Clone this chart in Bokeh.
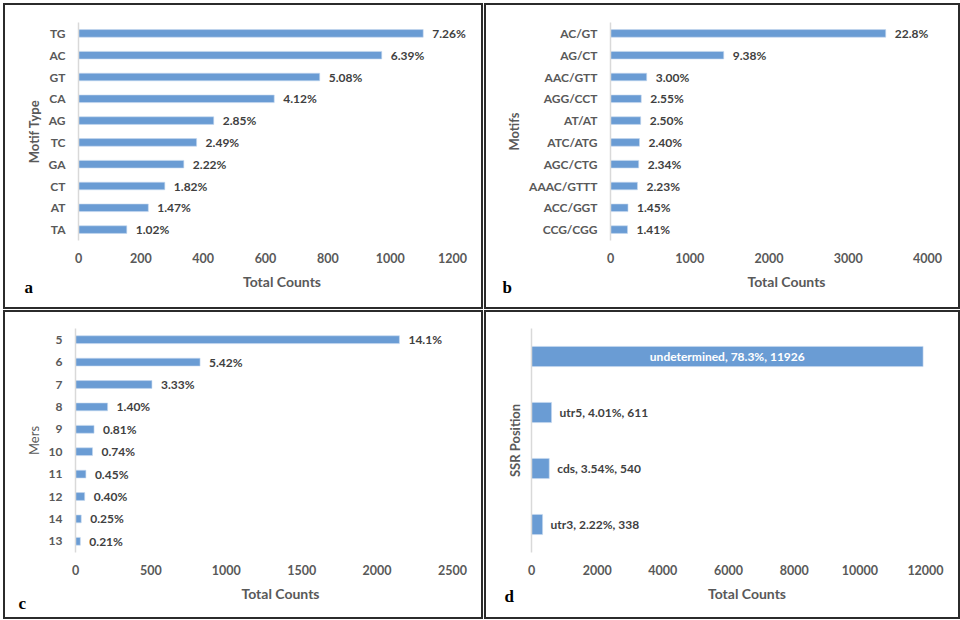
from bokeh.plotting import figure
from bokeh.layouts import column, row
from bokeh.models import (FactorRange, Range1d, SingleIntervalTicker, Title, ColumnDataSource,
                          CustomJSTickFormatter)
from bokeh.core.properties import value
from bokeh.embed import file_html
from bokeh.resources import INLINE

# ---------------- data ----------------
a_motifs = ["TG", "AC", "GT", "CA", "AG", "TC", "GA", "CT", "AT", "TA"]
a_counts = [1106, 973, 774, 628, 434, 379, 338, 277, 224, 155]
a_pct = ["7.26%", "6.39%", "5.08%", "4.12%", "2.85%", "2.49%", "2.22%", "1.82%", "1.47%", "1.02%"]

b_motifs = ["AC/GT", "AG/CT", "AAC/GTT", "AGG/CCT", "AT/AT", "ATC/ATG", "AGC/CTG", "AAAC/GTTT", "ACC/GGT", "CCG/CGG"]
b_counts = [3473, 1429, 457, 388, 381, 366, 356, 340, 221, 215]
b_pct = ["22.8%", "9.38%", "3.00%", "2.55%", "2.50%", "2.40%", "2.34%", "2.23%", "1.45%", "1.41%"]

c_mers = ["5", "6", "7", "8", "9", "10", "11", "12", "14", "13"]
c_counts = [2148, 826, 507, 213, 123, 113, 69, 61, 38, 32]
c_pct = ["14.1%", "5.42%", "3.33%", "1.40%", "0.81%", "0.74%", "0.45%", "0.40%", "0.25%", "0.21%"]

d_pos = ["undetermined", "utr5", "cds", "utr3"]
d_counts = [11926, 611, 540, 338]
d_pct = ["78.3%", "4.01%", "3.54%", "2.22%"]

BAR = "#6A9CD4"
TICK = "#595959"
LAB = "#3F3F3F"
FONT = "Lato"
BORDER = 2


def panel(cats, counts, labels, xmax, step, ytitle, letter, w, h, borders,
          ytitle_bold=True, show_cat=True, inside_first=False, letter_off=0,
          letter_standoff=-30, ytitle_standoff=4):
    left, right, top, bottom = borders
    frame_w = w - left - right
    # extend the data range to the panel's right edge so labels are not clipped
    xend = xmax * (frame_w + right) / frame_w
    p = figure(width=w, height=h, output_backend="svg", toolbar_location=None,
               y_range=FactorRange(factors=list(reversed(cats)), range_padding=0),
               x_range=Range1d(0, xend),
               min_border_left=left, min_border_right=0,
               min_border_top=top, min_border_bottom=bottom,
               styles={"border": f"{BORDER}px solid #2b2b2b"})
    p.outline_line_color = None
    p.grid.visible = False
    src = ColumnDataSource(dict(cat=cats, cnt=counts, lab=labels))
    p.hbar(y="cat", left=0, right="cnt", height=0.35 if len(cats) > 4 else 0.36,
           source=src, fill_color=BAR, line_color="#C8DAF0", line_width=0.6)

    xa = p.xaxis[0]
    xa.ticker = SingleIntervalTicker(interval=step)
    xa.axis_line_color = None
    xa.major_tick_line_color = None
    xa.minor_tick_line_color = None
    xa.major_tick_out = 0
    xa.major_tick_in = 0
    xa.minor_tick_out = 0
    xa.major_label_standoff = 12
    xa.major_label_text_font = FONT
    xa.major_label_text_font_style = "bold"
    xa.major_label_text_font_size = "12.5px"
    xa.major_label_text_color = TICK
    xa.axis_label = "Total Counts"
    xa.axis_label_text_font = FONT
    xa.axis_label_text_font_style = "bold"
    xa.axis_label_text_font_size = "14px"
    xa.axis_label_text_color = TICK
    xa.axis_label_standoff = 7

    ya = p.yaxis[0]
    ya.axis_line_color = "#D9D9D9"
    ya.axis_line_width = 1.5
    ya.major_tick_line_color = None
    ya.minor_tick_line_color = None
    ya.major_tick_out = 0
    ya.major_tick_in = 0
    ya.minor_tick_out = 0
    ya.major_label_text_font = FONT
    ya.major_label_text_font_style = "bold"
    ya.major_label_text_font_size = "12px"
    ya.major_label_text_color = TICK
    ya.major_label_standoff = 13
    if not show_cat:
        ya.formatter = CustomJSTickFormatter(code="return ''")
        ya.major_label_standoff = 0
    ya.axis_label = ytitle
    ya.axis_label_text_font = FONT
    ya.axis_label_text_font_style = "bold" if ytitle_bold else "normal"
    ya.axis_label_text_font_size = "13px"
    ya.axis_label_text_color = TICK
    ya.axis_label_standoff = ytitle_standoff

    if inside_first:
        out_src = ColumnDataSource(dict(cat=cats[1:], cnt=counts[1:], lab=labels[1:]))
        in_src = ColumnDataSource(dict(cat=cats[:1], half=[c / 2 for c in counts[:1]], lab=labels[:1]))
        p.text(x="half", y="cat", text="lab", source=in_src, text_align="center",
               text_baseline="middle", text_font=value(FONT), text_font_style="bold",
               text_font_size="12px", text_color="white")
        p.text(x="cnt", y="cat", text="lab", source=out_src, text_align="left",
               text_baseline="middle", x_offset=8, text_font=value(FONT),
               text_font_style="bold", text_font_size="12px", text_color=LAB)
    else:
        p.text(x="cnt", y="cat", text="lab", source=src, text_align="left",
               text_baseline="middle", x_offset=9, text_font=value(FONT),
               text_font_style="bold", text_font_size="12px", text_color=LAB)

    p.add_layout(Title(text=letter, align="left", offset=letter_off, standoff=letter_standoff,
                       vertical_align="top",
                       text_font="Liberation Serif", text_font_style="bold",
                       text_font_size="17px", text_color="black"), "below")
    return p


pa = panel(a_motifs, a_counts, a_pct, 1200, 200, "Motif Type", "a", 480, 306,
           (73, 33, 17, 71), letter_off=-54, letter_standoff=-30)
pb = panel(b_motifs, b_counts, b_pct, 4000, 1000, "Motifs", "b", 476, 306,
           (124, 35, 17, 71), letter_off=-108, letter_standoff=-30)
d_labels = [f"{n}, {p}, {c}" for n, p, c in zip(d_pos, d_pct, d_counts)]
pc = panel(c_mers, c_counts, c_pct, 2500, 500, "Mers", "c", 480, 309,
           (70, 33, 16, 69), ytitle_bold=False, letter_off=-57, letter_standoff=-22)
pd_ = panel(d_pos, d_counts, d_labels, 12000, 2000, "SSR Position", "d", 476, 309,
            (45, 37, 16, 69), show_cat=False, inside_first=True, letter_off=-27,
            letter_standoff=-36, ytitle_standoff=9)

layout = column(row(pa, pb, spacing=1), row(pc, pd_, spacing=1), spacing=1,
                margin=(3, 0, 0, 3))

open("out.html", "w").write(file_html(layout, INLINE))
